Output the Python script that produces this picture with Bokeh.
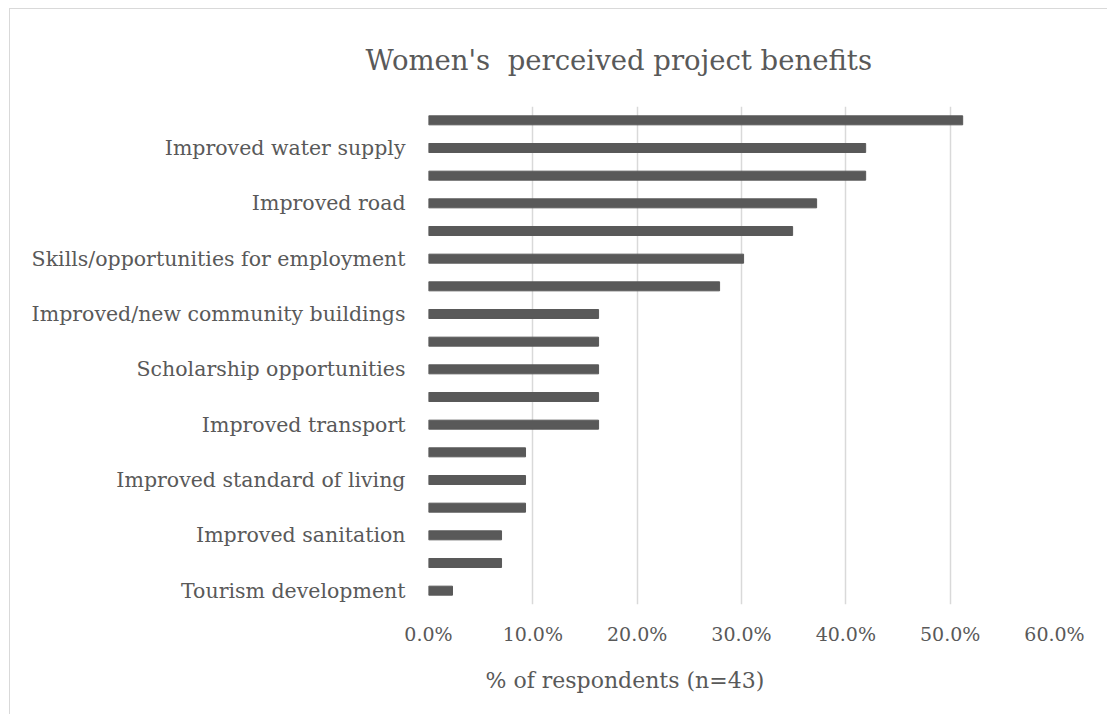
from bokeh.plotting import figure
from bokeh.models import FactorRange, NumeralTickFormatter, FixedTicker, ColumnDataSource, Title, CustomJSTickFormatter
from bokeh.embed import file_html
from bokeh.resources import INLINE

# Data (top to bottom as shown); unlabeled bars keep hidden placeholder names
categories = [
    "(unlabeled 1)", "Improved water supply", "(unlabeled 2)", "Improved road",
    "(unlabeled 3)", "Skills/opportunities for employment", "(unlabeled 4)",
    "Improved/new community buildings", "(unlabeled 5)", "Scholarship opportunities",
    "(unlabeled 6)", "Improved transport", "(unlabeled 7)", "Improved standard of living",
    "(unlabeled 8)", "Improved sanitation", "(unlabeled 9)", "Tourism development",
]
values = [0.512, 0.419, 0.419, 0.372, 0.349, 0.302, 0.279, 0.163, 0.163, 0.163,
          0.163, 0.163, 0.093, 0.093, 0.093, 0.070, 0.070, 0.023]
x_ticks = [0.0, 0.1, 0.2, 0.3, 0.4, 0.5, 0.6]
title_text = "Women's\u00a0 perceived project benefits"
x_label = "% of respondents (n=43)"

FONT = "DejaVu Serif"
TXT = "#595959"

factors = list(reversed(categories))
src = ColumnDataSource(dict(cat=categories, val=values))

p = figure(width=1098, height=706, output_backend="svg", toolbar_location=None,
           y_range=FactorRange(*factors, range_padding=0),
           x_range=(0, 0.6),
           min_border_left=418, min_border_right=54, min_border_top=97, min_border_bottom=111)
p.styles = {"margin-left": "9px", "margin-top": "8px",
            "border-top": "1px solid #d9d9d9", "border-left": "1px solid #d9d9d9"}

p.hbar(y="cat", right="val", height=0.325, source=src, color="#595959")

t = Title(text=title_text, text_font=FONT, text_font_size="27.5px", text_font_style="normal",
          text_color=TXT, align="left", offset=-63, standoff=60, vertical_align="middle")
p.add_layout(t, "above")

xl = Title(text=x_label, text_font=FONT, text_font_size="22px", text_font_style="normal",
           text_color=TXT, align="left", offset=57, standoff=36)
p.add_layout(xl, "below")

p.outline_line_color = None
p.ygrid.grid_line_color = None
p.xgrid.grid_line_color = "#d9d9d9"
p.xgrid.grid_line_width = 1.5

p.xaxis.ticker = FixedTicker(ticks=x_ticks)
p.xaxis.formatter = NumeralTickFormatter(format="0.0%")
p.xaxis.axis_line_color = None
p.xaxis.major_tick_line_color = None
p.xaxis.minor_tick_line_color = None
p.xaxis.major_label_text_font = FONT
p.xaxis.major_label_text_font_size = "19px"
p.xaxis.major_label_text_color = TXT
p.xaxis.major_label_standoff = 12

p.yaxis.axis_line_color = None
p.yaxis.major_tick_line_color = None
p.yaxis.major_label_text_font = FONT
p.yaxis.major_label_text_font_size = "20.5px"
p.yaxis.major_label_text_color = TXT
p.yaxis.major_label_standoff = 17
p.yaxis.formatter = CustomJSTickFormatter(code="return tick.startsWith('(unlabeled') ? '' : tick;")

open("out.html", "w").write(file_html(p, INLINE))
